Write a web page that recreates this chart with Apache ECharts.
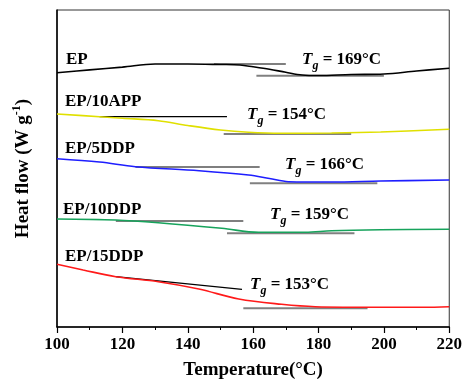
<!DOCTYPE html>
<html>
<head>
<meta charset="utf-8">
<script src="https://cdn.jsdelivr.net/npm/echarts@6/dist/echarts.min.js"></script>
<style>html,body{margin:0;padding:0;background:#fff}#c{width:465px;height:390px}</style>
</head>
<body>
<div id="c"></div>
<script>
// Heat flow curves (arbitrary units), x = temperature in °C
const EP = [[100,254.3],[110,257.1],[120,259.9],[130,263],[140,263],[150,262.5],[156,262],[160,260.2],[165,257.7],[170,254.7],[175,252],[180,251.5],[190,252.5],[200,253],[210,256],[220,258.7]];
const EP10APP = [[100,213],[113,210.3],[120,208.8],[131,206.3],[140,201.5],[150,197],[158.6,194.7],[168.7,193.7],[184,194],[199,195],[220,197.7]];
const EP5DDP = [[100,168.3],[113,165],[124,160.3],[143.5,156.3],[158.6,152],[165,148.5],[170.8,145.3],[184,145],[199,146],[220,147]];
const EP10DDP = [[100,108],[118,107],[131,104.3],[150.4,98.7],[161.7,94.7],[176,94.7],[184,96.3],[199,97.3],[220,97.7]];
const EP15DDP = [[100,62.7],[108,57],[118,50.3],[131,45.3],[143.4,38],[155.6,28],[168.7,22.7],[179,20.3],[199,19.7],[212,19.7],[220,20.3]];

// Tangent (baseline) lines used to determine Tg
const TAN_UP = [
  [[148,263],[170,263]],
  [[113,210.3],[152,210.3]],
  [[124,160],[162,160]],
  [[118,106],[157,106]],
  [[118,50.3],[156.6,37.7]]
];
const TAN_LOW = [
  [[161,251.3],[200,251.3]],
  [[151,193],[190,193]],
  [[159,143.7],[198,143.7]],
  [[152,93.7],[191,93.7]],
  [[157,18.7],[195,18.7]]
];

const NAMES = ['EP','EP/10APP','EP/5DDP','EP/10DDP','EP/15DDP'];
const TG = ['169','154','166','159','153'];
const COLORS = ['#000000','#e0e000','#1e1eff','#17a35c','#ff1a1a'];
const CURVES = [EP, EP10APP, EP5DDP, EP10DDP, EP15DDP];
const X_MIN = 100, X_MAX = 220, X_STEP = 20;

const FONT = '"Liberation Serif","Times New Roman",serif';
const chart = echarts.init(document.getElementById('c'), null, {renderer:'canvas'});

const series = [];
CURVES.forEach((d,i)=>{
  series.push({type:'line', data:d, smooth:0.35, showSymbol:false, symbol:'none',
    lineStyle:{color:COLORS[i], width:1.6}, z:3});
});
TAN_UP.forEach(d=>series.push({type:'line', data:d, showSymbol:false, symbol:'none', lineStyle:{color:'#000', width:1.2}, z:2}));
TAN_LOW.forEach(d=>series.push({type:'line', data:d, showSymbol:false, symbol:'none', lineStyle:{color:'#808080', width:2}, z:2}));

// label pixel positions (layout)
const nameLabelPos = [[66,60],[65,102],[65,149],[63,210],[65,257]];
const tgLabelPos = [[302,60],[247,115],[285,165],[270,215],[250,285]];

const graphics = [];
NAMES.forEach((n,i)=>{
  graphics.push({type:'text', x:nameLabelPos[i][0], y:nameLabelPos[i][1], z:10,
    style:{text:n, font:'bold 17px '+FONT, fill:'#000', verticalAlign:'middle', align:'left'}});
});
TG.forEach((t,i)=>{
  graphics.push({type:'text', x:tgLabelPos[i][0], y:tgLabelPos[i][1], z:10,
    style:{text:'{t|T}{g|g}{n| = '+t+'°C}', verticalAlign:'middle', align:'left', fill:'#000',
      rich:{
        t:{font:'italic bold 17px '+FONT, lineHeight:24, fill:'#000'},
        g:{font:'italic bold 12px '+FONT, lineHeight:12, verticalAlign:'bottom', fill:'#000'},
        n:{font:'bold 17px '+FONT, lineHeight:24, fill:'#000'}
      }}});
});

chart.setOption({
  animation:false,
  backgroundColor:'#fff',
  grid:{left:57, right:13, top:10, bottom:63, show:true, borderColor:'#333', borderWidth:1},
  xAxis:{type:'value', min:X_MIN, max:X_MAX, interval:X_STEP,
    name:'Temperature(°C)', nameLocation:'middle', nameGap:34,
    nameTextStyle:{fontFamily:FONT, fontWeight:'bold', fontSize:19, color:'#000'},
    axisLine:{show:true, lineStyle:{color:'#000', width:1.5}},
    axisTick:{show:true, length:6, inside:false, lineStyle:{color:'#000', width:1.2}},
    minorTick:{show:true, splitNumber:2, length:3, lineStyle:{color:'#000', width:1}},
    axisLabel:{fontFamily:FONT, fontWeight:'bold', fontSize:17, color:'#000', margin:9},
    splitLine:{show:false}},
  yAxis:{type:'value', min:0, max:317,
    name:'{a|Heat flow (W g}{s|-1}{a|)}', nameLocation:'middle', nameGap:22, nameRotate:90,
    nameTextStyle:{color:'#000', rich:{
      a:{fontFamily:FONT, fontWeight:'bold', fontSize:19, lineHeight:24, color:'#000'},
      s:{fontFamily:FONT, fontWeight:'bold', fontSize:12, lineHeight:12, verticalAlign:'top', color:'#000'}
    }},
    axisLine:{show:true, lineStyle:{color:'#000', width:1.5}},
    axisTick:{show:false}, axisLabel:{show:false}, splitLine:{show:false}},
  series:series,
  graphic:graphics
});
</script>
</body>
</html>
